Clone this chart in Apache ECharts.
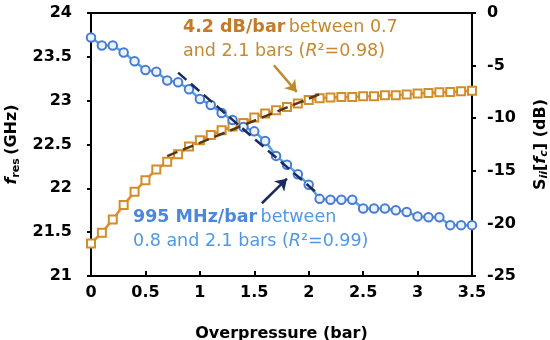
<!DOCTYPE html>
<html><head><meta charset="utf-8">
<script src="https://cdn.jsdelivr.net/npm/echarts@6/dist/echarts.min.js"></script>
<style>html,body{margin:0;padding:0;background:#fff}#c{width:550px;height:340px}</style>
</head><body><div id="c"></div>
<script>
const pressure = [0,0.1,0.2,0.3,0.4,0.5,0.6,0.7,0.8,0.9,1.0,1.1,1.2,1.3,1.4,1.5,1.6,1.7,1.8,1.9,2.0,2.1,2.2,2.3,2.4,2.5,2.6,2.7,2.8,2.9,3.0,3.1,3.2,3.3,3.4,3.5];
const fres = [23.72,23.63,23.63,23.55,23.45,23.35,23.33,23.23,23.21,23.13,23.02,22.95,22.86,22.78,22.70,22.65,22.54,22.37,22.27,22.16,22.04,21.88,21.87,21.87,21.87,21.77,21.77,21.77,21.75,21.73,21.68,21.67,21.67,21.58,21.58,21.58];
const sii = [-21.9,-20.89,-19.62,-18.26,-17.0,-15.89,-14.87,-14.15,-13.42,-12.7,-12.1,-11.6,-11.15,-10.8,-10.45,-9.93,-9.55,-9.24,-8.93,-8.6,-8.27,-8.1,-8.04,-7.98,-7.98,-7.91,-7.91,-7.82,-7.82,-7.75,-7.66,-7.6,-7.53,-7.5,-7.44,-7.4];
const fresFitX = [0.8, 2.1];
const fresFitY = [23.32, 21.92];
const siiFitX = [0.7, 2.1];
const siiFitY = [-13.6, -7.72];
const fresArrow = [[1.57, 21.83], [1.80, 22.11]];
const siiArrow = [[1.68, -4.97], [1.89, -7.5]];
const xTicks = {min: 0, max: 3.5, interval: 0.5};
const yLeftTicks = {min: 21, max: 24, interval: 0.5};
const yRightTicks = {min: -25, max: 0, interval: 5};

const FONT = 'DejaVu Sans';
const chart = echarts.init(document.getElementById('c'), null, {renderer: 'canvas'});
const zip = (xs, ys) => xs.map((x, i) => [x, ys[i]]);
const axisCommon = {
  axisLine: {show: true, onZero: false, lineStyle: {color: '#000', width: 2}},
  axisTick: {show: true, inside: false, length: 4, lineStyle: {color: '#000', width: 2}},
  splitLine: {show: false},
  axisLabel: {color: '#000', fontFamily: FONT, fontWeight: 'bold', fontSize: 16}
};
chart.setOption({
  animation: false,
  grid: {left: 91, right: 78, top: 13, bottom: 64, containLabel: false, outerBoundsMode: 'none',
    show: true, borderColor: '#000', borderWidth: 2},
  xAxis: Object.assign({}, axisCommon, {
    type: 'value', min: xTicks.min, max: xTicks.max, interval: xTicks.interval,
    axisTick: {show: true, inside: true, length: 5, lineStyle: {color: '#000', width: 2}},
    axisLabel: Object.assign({}, axisCommon.axisLabel, {margin: 9}),
    name: 'Overpressure (bar)', nameLocation: 'middle', nameGap: 50,
    nameTextStyle: {color: '#000', fontFamily: FONT, fontWeight: 'bold', fontSize: 16}
  }),
  yAxis: [
    Object.assign({}, axisCommon, {
      type: 'value', position: 'left', min: yLeftTicks.min, max: yLeftTicks.max, interval: yLeftTicks.interval,
      axisLabel: Object.assign({}, axisCommon.axisLabel, {margin: 19}),
      name: '{fi|f}{sub|res} {b|(GHz)}', nameLocation: 'middle', nameRotate: 90, nameGap: 63,
      nameTextStyle: {rich: {
        fi: {fontFamily: FONT, fontWeight: 'bold', fontStyle: 'italic', fontSize: 16, color: '#000'},
        sub: {fontFamily: FONT, fontWeight: 'bold', fontSize: 11, color: '#000', verticalAlign: 'bottom', padding: [8, 0, 0, 0]},
        b: {fontFamily: FONT, fontWeight: 'bold', fontSize: 16, color: '#000'}
      }}
    }),
    Object.assign({}, axisCommon, {
      type: 'value', position: 'right', min: yRightTicks.min, max: yRightTicks.max, interval: yRightTicks.interval,
      axisLabel: Object.assign({}, axisCommon.axisLabel, {margin: 15}),
      name: '{b|S}{sub|ii}{b|[}{fi|f}{subi|c}{b|] (dB)}', nameLocation: 'middle', nameRotate: 90, nameGap: 59,
      nameTextStyle: {rich: {
        fi: {fontFamily: FONT, fontWeight: 'bold', fontStyle: 'italic', fontSize: 16, color: '#000'},
        sub: {fontFamily: FONT, fontWeight: 'bold', fontStyle: 'italic', fontSize: 11, color: '#000', padding: [8, 0, 0, 0]},
        subi: {fontFamily: FONT, fontWeight: 'bold', fontStyle: 'italic', fontSize: 11, color: '#000', padding: [8, 0, 0, 0]},
        b: {fontFamily: FONT, fontWeight: 'bold', fontSize: 16, color: '#000'}
      }}
    })
  ],
  series: [
    {
      type: 'line', yAxisIndex: 1, data: zip(pressure, sii), z: 3,
      lineStyle: {color: '#F0852D', width: 2.5},
      symbol: 'rect', symbolSize: 8,
      itemStyle: {color: '#ffffff', borderColor: '#D08E2A', borderWidth: 2}
    },
    {
      type: 'line', yAxisIndex: 0, data: zip(pressure, fres), z: 3,
      lineStyle: {color: '#4DA3E8', width: 2.5},
      symbol: 'circle', symbolSize: 8.5,
      itemStyle: {color: '#EAF4FF', borderColor: '#4A7BD0', borderWidth: 2}
    },
    {
      type: 'line', yAxisIndex: 1, data: zip(siiFitX, siiFitY), z: 4, symbol: 'none',
      lineStyle: {color: '#5A3512', width: 2.5, type: [11, 6]},
      markLine: {silent: true, symbol: ['none', 'arrow'], symbolSize: 11, label: {show: false},
        lineStyle: {color: '#BE8A2C', width: 2.5, type: 'solid'},
        data: [[{coord: siiArrow[0]}, {coord: siiArrow[1]}]]}
    },
    {
      type: 'line', yAxisIndex: 0, data: zip(fresFitX, fresFitY), z: 4, symbol: 'none',
      lineStyle: {color: '#1B2A5E', width: 2.5, type: [11, 6]},
      markLine: {silent: true, symbol: ['none', 'arrow'], symbolSize: 11, label: {show: false},
        lineStyle: {color: '#1B2A5E', width: 2.5, type: 'solid'},
        data: [[{coord: fresArrow[0]}, {coord: fresArrow[1]}]]}
    }
  ],
  graphic: [
    {type: 'text', left: 183, top: 18, style: {
      text: '{b|4.2 dB/bar} {n|between 0.7}',
      rich: {
        b: {fontFamily: FONT, fontWeight: 'bold', fontSize: 17.5, fill: '#C47A26'},
        n: {fontFamily: FONT, fontSize: 17.5, fill: '#C7882E'}
      }}},
    {type: 'text', left: 183, top: 42, style: {
      text: '{n|and 2.1 bars (}{i|R}{n|²=0.98)}',
      rich: {
        n: {fontFamily: FONT, fontSize: 17.5, fill: '#C7882E'},
        i: {fontFamily: FONT, fontStyle: 'italic', fontSize: 17.5, fill: '#C7882E'}
      }}},
    {type: 'text', left: 133, top: 208, style: {
      text: '{b|995 MHz/bar} {n|between}',
      rich: {
        b: {fontFamily: FONT, fontWeight: 'bold', fontSize: 17.5, fill: '#4A88DA'},
        n: {fontFamily: FONT, fontSize: 17.5, fill: '#4E98E4'}
      }}},
    {type: 'text', left: 133, top: 232, style: {
      text: '{n|0.8 and 2.1 bars (}{i|R}{n|²=0.99)}',
      rich: {
        n: {fontFamily: FONT, fontSize: 17.5, fill: '#4E98E4'},
        i: {fontFamily: FONT, fontStyle: 'italic', fontSize: 17.5, fill: '#4E98E4'}
      }}}
  ]
});
</script></body></html>
